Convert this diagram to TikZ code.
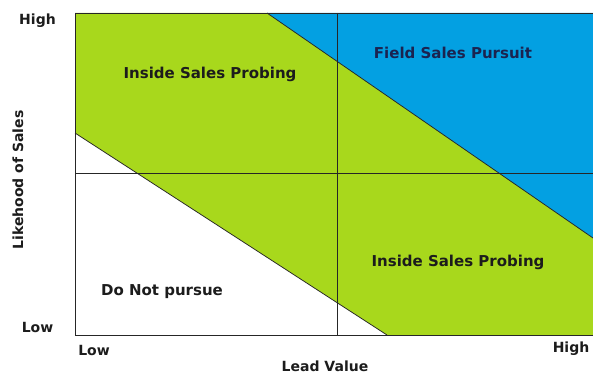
\documentclass[tikz,border=0pt]{standalone}
\usepackage{fontspec}
\setmainfont{DejaVu Sans}
\definecolor{lgreen}{HTML}{A8D81C}
\definecolor{lblue}{HTML}{03A0E2}
\definecolor{ink}{HTML}{1C1C1C}
\definecolor{navy}{HTML}{1B2350}
\begin{document}
\begin{tikzpicture}[x=1pt,y=-1pt,
  lbl/.style={font=\bfseries\fontsize{15}{17}\selectfont, text=ink, inner sep=0pt},
  axl/.style={font=\bfseries\fontsize{14}{16}\selectfont, text=ink, inner sep=0pt},
  edge/.style={draw=black!85, line width=0.75pt}]
\useasboundingbox (0,0) rectangle (593,374);
\fill[white] (0,0) rectangle (593,374);
% regions
\fill[lgreen] (75,13) -- (267,13) -- (593,238) -- (593,335) -- (387,335) -- (75,133) -- cycle;
\fill[lblue] (267,13) -- (593,13) -- (593,238) -- cycle;
% diagonals
\draw[edge] (75,133) -- (387,335);
\draw[edge] (267,13) -- (593,238);
% dividers
\draw[edge] (337,13) -- (337,335);
\draw[edge] (75,173) -- (593,173);
% frame
\draw[edge] (593,13) -- (75,13) -- (75,335) -- (593,335);
% labels
\node[lbl] (isp1) at (210,74) {Inside Sales Probing};
\node[lbl, text=navy] (fsp) at (453,53) {Field Sales Pursuit};
\node[lbl] (isp2) at (458,262) {Inside Sales Probing};
\node[lbl] (dnp) at (162,292) {Do Not pursue};
% axes
\node[axl] (yhigh) at (37.5,21) {High};
\node[axl] (ylow) at (37.5,327) {Low};
\node[axl] (xlow) at (94,350) {Low};
\node[axl] (xhigh) at (571,349) {High};
\node[axl] (xlab) at (325,366) {Lead Value};
\node[axl, rotate=90] (ylab) at (18,180) {Likehood of Sales};
\end{tikzpicture}
\end{document}
